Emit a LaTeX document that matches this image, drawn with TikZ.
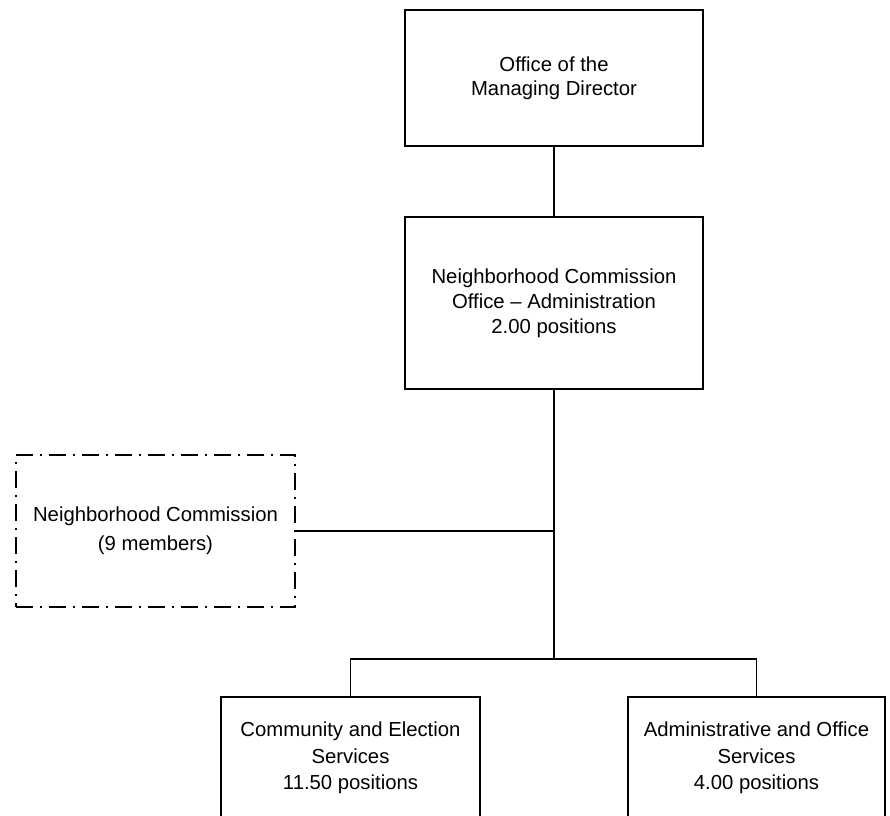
\documentclass[tikz,border=0pt]{standalone}
\usepackage{fontspec}
\setmainfont{Liberation Sans}
\begin{document}
\begin{tikzpicture}[x=1pt,y=-1pt,
  orgbox/.style={draw=black, line width=1.8pt, align=center, inner sep=0pt,
    font=\fontsize{20.3}{25}\selectfont},
  dashbox/.style={orgbox, line width=2.2pt, dash pattern=on 17pt off 7pt on 2pt off 7pt,
    font=\fontsize{20.3}{29}\selectfont},
  link/.style={draw=black, line width=1.8pt}]
\clip (0,0) rectangle (890,815);
\fill[white] (0,0) rectangle (890,815);
\node[orgbox, minimum width=298pt, minimum height=136pt, font=\fontsize{20.3}{24}\selectfont] (top) at (554,78) {Office of the\\Managing Director};
\node[orgbox, minimum width=298pt, minimum height=172pt] (admin) at (554,303) {Neighborhood Commission\\Office -- Administration\\2.00 positions};
\node[dashbox, minimum width=279pt, minimum height=152pt] (comm) at (155.5,531) {Neighborhood Commission\\(9 members)};
\node[orgbox, minimum width=259pt, minimum height=122pt, font=\fontsize{20.3}{26.5}\selectfont] (ces) at (350.5,758) {Community and Election\\Services\\11.50 positions};
\node[orgbox, minimum width=257pt, minimum height=122pt, font=\fontsize{20.3}{26.5}\selectfont] (aos) at (756.5,758) {Administrative and Office\\Services\\4.00 positions};
\coordinate (bus) at (554,659);
\draw[link] (top.south) -- (admin.north);
\draw[link] (admin.south) -- (bus);
\draw[link] (comm.east) -- (comm.east -| admin.south);
\draw[link] (ces.north) -- (ces.north |- bus) -- (aos.north |- bus) -- (aos.north);
\end{tikzpicture}
\end{document}
